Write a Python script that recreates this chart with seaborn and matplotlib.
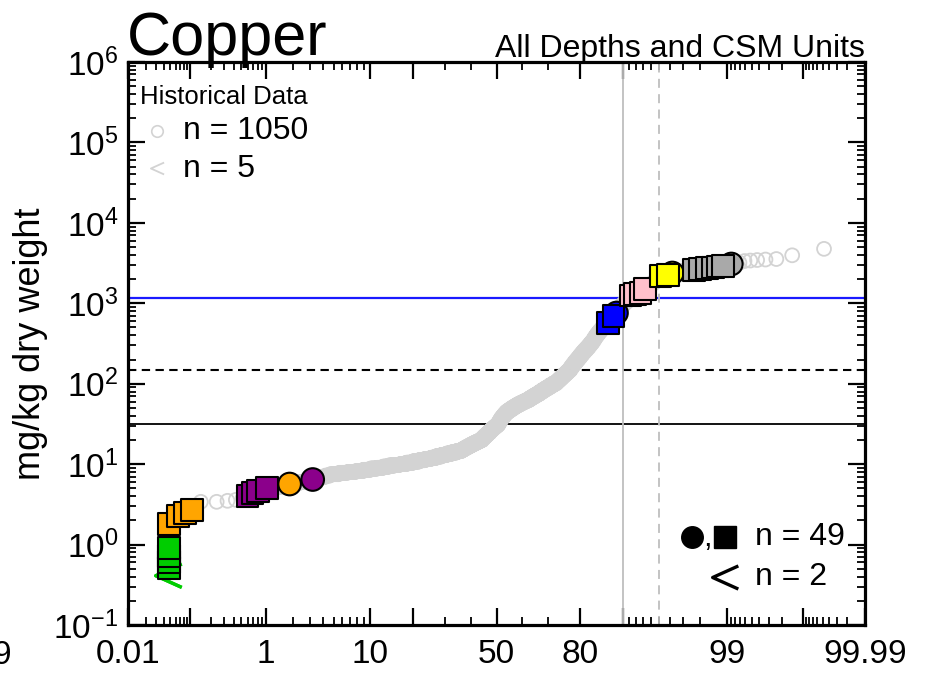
import math
import numpy as np
import pandas as pd
import matplotlib
matplotlib.use("Agg")
import matplotlib.pyplot as plt
from matplotlib.path import Path
from matplotlib.ticker import (FixedLocator, FixedFormatter, LogLocator,
                               LogFormatterMathtext, NullFormatter)
import seaborn as sns

# ---------------------------------------------------------------------------
# Historical copper results (mg/kg dry weight): reported level and how many
# samples were reported at that level.
hist_levels = [
    1.2, 3.4, 3.5, 3.6, 3.8, 4.0, 4.2, 4.4, 4.6, 5.0, 5.2, 5.5, 5.7, 6.0, 6.3,
    6.6, 6.9, 7.2, 7.5, 7.8, 8.0, 8.2, 8.5, 8.8, 9.0, 9.3, 9.6, 9.8,
    10.0, 10.4, 10.8, 11.2, 11.6, 12.0, 12.5, 13.0, 13.5, 14.0, 14.5,
    15, 15.5, 16, 16.5, 17, 17.5, 18, 18.5, 19, 19.5,
    20, 21, 22, 23, 24, 25, 26, 27, 28, 29, 30, 31,
    33, 35, 37, 39, 41, 43,
    45, 47, 49, 51, 53, 55, 57, 59, 61, 63,
    66, 69, 72, 75, 79, 83, 87, 91, 96, 101,
    106, 111, 116, 122, 128, 134, 141, 148,
    160, 172, 185, 198, 212, 228, 245, 262, 280, 300, 320,
    340, 365, 390, 415, 440, 465, 490, 515, 540, 570,
    600, 640, 680, 740,
    800, 860, 920, 980, 1040, 1100, 1160, 1230, 1300,
    1340, 1380, 1430, 1490,
    1570, 1650, 1740, 1850, 1980, 2150,
    2220, 2280, 2360,
    2420, 2470, 2530, 2600,
    2650, 2720, 2790, 2850, 2900,
    2950, 3000, 3080, 3200, 3350,
    3400, 3450, 3500, 3550, 3950, 4750,
]
hist_counts = [
    1, 2, 1, 1, 1, 1, 1, 1, 1, 3, 3, 4, 4, 5, 5,
    5, 5, 5, 10, 11, 12, 12, 13, 13, 13, 13, 13, 14,
    18, 19, 19, 19, 19, 19, 19, 19, 19, 19, 18,
    8, 8, 8, 8, 8, 8, 8, 8, 8, 8,
    7, 7, 7, 7, 6, 6, 6, 6, 6, 6, 6, 6,
    5, 5, 6, 6, 6, 6,
    9, 9, 9, 9, 9, 10, 10, 10, 10, 10,
    10, 10, 10, 10, 10, 10, 10, 10, 11, 11,
    6, 6, 6, 6, 6, 6, 6, 6,
    6, 6, 6, 6, 6, 6, 6, 6, 6, 5, 5,
    4, 4, 4, 4, 4, 4, 4, 4, 5, 5,
    4, 4, 4, 3,
    4, 4, 4, 4, 4, 4, 4, 3, 3,
    4, 4, 4, 4,
    3, 3, 3, 3, 3, 3,
    4, 4, 3,
    4, 4, 4, 4,
    3, 3, 3, 2, 2,
    1, 1, 1, 1, 1,
    1, 1, 1, 1, 1, 1,
]
# Historical results reported below detection (detection limit values)
hist_nd_levels = [10.0, 12.0, 15.0, 20.0, 25.0]

# Current samples by CSM unit: percentile position and concentration
cur_unit = (["green"] * 4 + ["orange"] * 4 + ["purple"] * 4 + ["orange", "purple"]
            + ["blue"] * 3 + ["pink"] * 4 + ["yellow"] * 3 + ["gray"] * 7)
cur_shape = (["square"] * 12 + ["circle", "circle"]
             + ["square", "square", "circle"] + ["square"] * 4
             + ["square", "square", "circle"] + ["square"] * 6 + ["circle"])
cur_pct = [0.047, 0.047, 0.047, 0.047,
           0.047, 0.065, 0.083, 0.105,
           0.60, 0.69, 0.80, 1.02,
           1.84, 3.18,
           87.05, 88.1, 88.7,
           91.2, 91.9, 92.7, 93.35,
           95.1, 95.85, 96.2,
           97.70, 98.01, 98.33, 98.56, 98.74, 98.89, 99.11]
cur_val = [0.51, 0.61, 0.72, 0.91,
           1.80, 2.27, 2.47, 2.69,
           4.0, 4.4, 4.6, 5.05,
           5.66, 6.44,
           569, 695, 757,
           1250, 1300, 1340, 1500,
           2180, 2250, 2380,
           2590, 2650, 2720, 2790, 2860, 2900, 3080]
# Current samples below detection
cur_nd_unit = ["green", "green"]
cur_nd_pct = [0.047, 0.047]
cur_nd_val = [0.41, 0.41]
cur_counts = [49, 2]

unit_colors = {"green": "#00CD00", "orange": "#FFA500", "purple": "#8B008B",
               "blue": "#0000FF", "pink": "#FFC0CB", "yellow": "#FFFF00",
               "gray": "#A9A9A9"}

# Sediment guideline concentrations and reference percentiles
guide_low = 31.6
guide_mid = 149
guide_high = 1160
pct_solid = 90
pct_dashed = 95

x_major = [0.01, 0.1, 1, 10, 20, 50, 80, 90, 99, 99.9, 99.99]
x_major_labels = ["0.01", "", "1", "10", "", "50", "80", "", "99", "", "99.99"]
x_minor = ([0.02, 0.03, 0.04, 0.05, 0.06, 0.07, 0.08, 0.09]
           + [0.2, 0.3, 0.4, 0.5, 0.6, 0.7, 0.8, 0.9]
           + [2, 3, 4, 5, 6, 7, 8, 9]
           + [30, 40, 60, 70]
           + [91, 92, 93, 94, 95, 96, 97, 98]
           + [99.1, 99.2, 99.3, 99.4, 99.5, 99.6, 99.7, 99.8]
           + [99.91, 99.92, 99.93, 99.94, 99.95, 99.96, 99.97, 99.98])

# ---------------------------------------------------------------------------
# Normal-probability axis transform (percent <-> standard normal quantile)
_erf = np.vectorize(math.erf, otypes=[float])
_A = [-3.969683028665376e+01, 2.209460984245205e+02, -2.759285104469687e+02,
      1.383577518672690e+02, -3.066479806614716e+01, 2.506628277459239e+00]
_B = [-5.447609879822406e+01, 1.615858368580409e+02, -1.556989798598866e+02,
      6.680131188771972e+01, -1.328068155288572e+01]
_C = [-7.784894002430293e-03, -3.223964580411365e-01, -2.400758277161838e+00,
      -2.549671010115783e+00, 4.374664141464968e+00, 2.938163982698783e+00]
_D = [7.784695709041462e-03, 3.224671290700398e-01, 2.445134137142996e+00,
      3.754408661907416e+00]


def pct_to_z(p):
    arr = np.asarray(p, dtype=float)
    q = np.clip(np.atleast_1d(arr) / 100.0, 1e-12, 1 - 1e-12)
    z = np.full(q.shape, np.nan)
    plow = 0.02425
    lo = q < plow
    hi = q > 1 - plow
    mid = ~(lo | hi) & np.isfinite(q)
    r = q[mid] - 0.5
    t = r * r
    z[mid] = ((((((_A[0] * t + _A[1]) * t + _A[2]) * t + _A[3]) * t + _A[4]) * t + _A[5]) * r
              / (((((_B[0] * t + _B[1]) * t + _B[2]) * t + _B[3]) * t + _B[4]) * t + 1))
    for mask, sign, qq in ((lo, 1.0, q[lo]), (hi, -1.0, 1 - q[hi])):
        s = np.sqrt(-2 * np.log(qq))
        z[mask] = sign * (((((_C[0] * s + _C[1]) * s + _C[2]) * s + _C[3]) * s + _C[4]) * s + _C[5]) \
            / ((((_D[0] * s + _D[1]) * s + _D[2]) * s + _D[3]) * s + 1)
    # one Halley refinement step
    e = 0.5 * (1 + _erf(z / math.sqrt(2))) - q
    u = e * math.sqrt(2 * math.pi) * np.exp(z * z / 2)
    z = z - u / (1 + z * u / 2)
    return z.reshape(arr.shape)


def z_to_pct(z):
    return 50.0 * (1 + _erf(np.asarray(z, dtype=float) / math.sqrt(2)))


# ---------------------------------------------------------------------------
hist_sorted = np.repeat(np.array(hist_levels, dtype=float), hist_counts)
n_hist = len(hist_sorted)
hist_nd = np.zeros(n_hist, dtype=bool)
for lvl in hist_nd_levels:
    idx = np.where((hist_sorted == lvl) & ~hist_nd)[0][0]
    hist_nd[idx] = True
hist_df = pd.DataFrame({
    "pct": (np.arange(1, n_hist + 1) - 0.5) / n_hist * 100,
    "value": hist_sorted,
    "nd": hist_nd,
})

cur_df = pd.DataFrame({"unit": cur_unit, "shape": cur_shape,
                       "pct": cur_pct, "value": cur_val}).sort_values("value")
nd_df = pd.DataFrame({"unit": cur_nd_unit, "pct": cur_nd_pct, "value": cur_nd_val})

# ---------------------------------------------------------------------------
sns.set_theme(style="ticks")
plt.rcParams["font.family"] = ["Liberation Sans", "DejaVu Sans"]
plt.rcParams["mathtext.fontset"] = "custom"
plt.rcParams["mathtext.rm"] = "Liberation Sans"
plt.rcParams["mathtext.it"] = "Liberation Sans:italic"
plt.rcParams["mathtext.bf"] = "Liberation Sans:bold"
plt.rcParams["mathtext.default"] = "regular"
plt.rcParams["text.color"] = "black"
plt.rcParams["axes.labelcolor"] = "black"

fig = plt.figure(figsize=(9.32, 6.75), dpi=100)
ax = fig.add_axes([128 / 932, 50 / 675, 737 / 932, 563 / 675])
ax.set_facecolor("white")

chevron = Path([(0.5, 0.45), (-0.5, 0.0), (0.5, -0.45)],
               [Path.MOVETO, Path.LINETO, Path.LINETO])
hist_gray = "#D3D3D3"

# reference lines
ax.axhline(guide_low, color="black", lw=1.3, zorder=1)
ax.axhline(guide_mid, color="black", lw=1.5, ls=(0, (4, 2.6)), zorder=1)
ax.axhline(guide_high, color="#1a1aff", lw=1.6, zorder=1)
ax.axvline(pct_solid, color="#BEBEBE", lw=1.3, zorder=1)
ax.axvline(pct_dashed, color="#BEBEBE", lw=1.3, ls=(0, (5, 3.5)), zorder=1)

# historical data
sns.scatterplot(data=hist_df[~hist_df["nd"]], x="pct", y="value", marker="o",
                s=100, color=hist_gray, facecolor="none", edgecolor=hist_gray,
                linewidth=1.3, legend=False, ax=ax, zorder=2)
sns.scatterplot(data=hist_df[hist_df["nd"]], x="pct", y="value", marker=chevron,
                s=90, color=hist_gray, facecolor="none", edgecolor=hist_gray,
                linewidth=1.3, legend=False, ax=ax, zorder=2)

# current samples
sns.scatterplot(data=nd_df, x="pct", y="value", marker=chevron, s=350,
                color=unit_colors["green"], facecolor="none",
                edgecolor=unit_colors["green"], linewidth=2.4,
                legend=False, ax=ax, zorder=3)
circ = cur_df[cur_df["shape"] == "circle"]
sq = cur_df[cur_df["shape"] == "square"]
sns.scatterplot(data=circ, x="pct", y="value", hue="unit", palette=unit_colors,
                marker="o", s=265, edgecolor="black", linewidth=1.5,
                legend=False, ax=ax, zorder=3.5)
sns.scatterplot(data=sq, x="pct", y="value", hue="unit", palette=unit_colors,
                marker="s", s=245, edgecolor="black", linewidth=1.5,
                legend=False, ax=ax, zorder=4)

# axes scales
ax.set_yscale("log")
ax.set_xscale("function", functions=(pct_to_z, z_to_pct))
ax.set_xlim(0.01, 99.99)
ax.set_ylim(0.1, 1e6)

ax.xaxis.set_major_locator(FixedLocator(x_major))
ax.xaxis.set_major_formatter(FixedFormatter(x_major_labels))
ax.xaxis.set_minor_locator(FixedLocator(x_minor))
ax.xaxis.set_minor_formatter(NullFormatter())
ax.yaxis.set_major_locator(LogLocator(base=10, numticks=20))
ax.yaxis.set_major_formatter(LogFormatterMathtext())
ax.yaxis.set_minor_locator(LogLocator(base=10, subs=np.arange(2, 10), numticks=100))
ax.yaxis.set_minor_formatter(NullFormatter())

ax.tick_params(which="major", direction="in", length=12, width=1.6,
               top=True, right=True, labelsize=24, pad=7,
               color="black", labelcolor="black")
ax.tick_params(axis="x", which="major", pad=10)
ax.tick_params(which="minor", direction="in", length=6, width=1.3,
               top=True, right=True, color="black")
for sp in ax.spines.values():
    sp.set_color("black")
    sp.set_linewidth(2.3)

ax.set_xlabel("")
ax.set_ylabel("mg/kg dry weight", fontsize=26, color="black")
ax.yaxis.set_label_coords(-0.108, 0.5)

# titles
fig.text(127 / 932, 1 - 55 / 675, "Copper", fontsize=44, ha="left",
         va="baseline", color="black")
fig.text(865 / 932, 1 - 57 / 675, "All Depths and CSM Units", fontsize=23,
         ha="right", va="baseline", color="black")
fig.text(12 / 932, 1 - 640 / 675, "99.99", fontsize=24, ha="right", va="top",
         color="black")

# key: historical data
tr = ax.transAxes


def ax_xy(px, py):
    return (px - 128) / 737, (625 - py) / 563


ax.text(*ax_xy(140, 97), "Historical Data", fontsize=18.5, ha="left",
        va="center", transform=tr, color="black")
ax.plot(*ax_xy(157, 131), marker="o", ms=8.3, mfc="none", mec=hist_gray,
        mew=1.2, transform=tr, clip_on=False)
ax.text(*ax_xy(183, 131), f"n = {int((~hist_nd).sum())}", fontsize=23,
        ha="left", va="center", transform=tr, color="black")
ax.plot(*ax_xy(157, 168), marker=chevron, ms=9.5, mfc="none", mec=hist_gray,
        mew=1.3, transform=tr, clip_on=False)
ax.text(*ax_xy(183, 169), f"n = {int(hist_nd.sum())}", fontsize=23,
        ha="left", va="center", transform=tr, color="black")

# key: current data
ax.plot(*ax_xy(692, 537), marker="o", ms=15.5, color="black", mec="black",
        transform=tr, clip_on=False)
ax.text(*ax_xy(703, 546), ",", fontsize=22, ha="left", va="baseline",
        transform=tr, color="black")
ax.plot(*ax_xy(725, 537), marker="s", ms=16, color="black", mec="black",
        transform=tr, clip_on=False)
ax.text(*ax_xy(755, 537), f"n = {cur_counts[0]}", fontsize=23, ha="left",
        va="center", transform=tr, color="black")
ax.plot(*ax_xy(725, 577), marker=chevron, ms=18.5, mfc="none", mec="black",
        mew=2.4, transform=tr, clip_on=False)
ax.text(*ax_xy(755, 577), f"n = {cur_counts[1]}", fontsize=23, ha="left",
        va="center", transform=tr, color="black")

fig.savefig("out.png", dpi=100)
